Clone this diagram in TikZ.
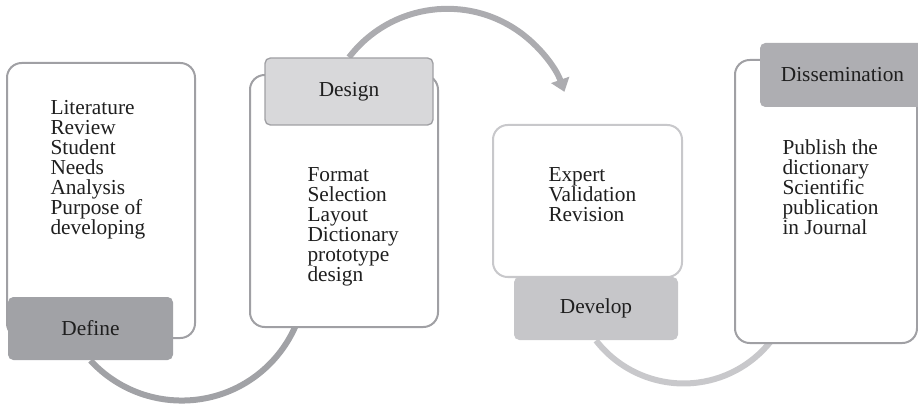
\documentclass[tikz,border=0pt]{standalone}
\usepackage{fontspec}
\setmainfont{Liberation Serif}
\usetikzlibrary{arrows.meta,backgrounds}

\definecolor{tabdark}{RGB}{161,162,166}
\definecolor{tabmid}{RGB}{174,174,178}
\definecolor{tablight}{RGB}{198,198,201}
\definecolor{tabpale}{RGB}{216,216,218}
\definecolor{framegray}{RGB}{160,160,164}
\definecolor{framelight}{RGB}{200,200,203}
\definecolor{arcmid}{RGB}{172,172,176}

\tikzset{every picture/.style={line width=0.75pt}}
\tikzset{
  stagebox/.style={draw=framegray, line width=1.5pt, fill=white, rounded corners=11pt, inner sep=0pt},
  stagetab/.style={rounded corners=4pt, inner sep=0pt, text=black!88, font=\fontsize{16}{15}\selectfont},
  stageitems/.style={anchor=north west, inner sep=0pt, align=left, text=black!88, font=\fontsize{16}{15}\selectfont},
  flowarc/.style={line width=4.5pt}
}

\begin{document}
\begin{tikzpicture}[x=0.75pt,y=0.75pt,yscale=-1,xscale=1]
	\useasboundingbox (0,0) rectangle (918,406);

	%Shape: Rounded Rectangle [stage boxes]
	\node [stagebox, minimum width=141pt, minimum height=206.25pt] (defbox) at (101,200.5) {};
	\node [stagebox, minimum width=141pt, minimum height=189pt] (desbox) at (344,201) {};
	\node [stagebox, draw=framelight, minimum width=141.75pt, minimum height=114pt] (devbox) at (587.5,201) {};
	\node [stagebox, minimum width=136.5pt, minimum height=212.25pt] (disbox) at (826,201.5) {};

	%Shape: Rounded Rectangle [stage tabs]
	\node [stagetab, fill=tabdark, minimum width=123.75pt, minimum height=47.25pt] (define) at (90.5,328.5) {Define};
	\node [stagetab, fill=tabpale, draw=framegray, line width=1pt, minimum width=126pt, minimum height=50.25pt] (design) at (349,91.5) {Design};
	\node [stagetab, fill=tablight, minimum width=123pt, minimum height=47.25pt] (develop) at (596,308.5) {Develop};
	\node [stagetab, fill=tabmid, minimum width=123.75pt, minimum height=48pt] (dissem) at (842.5,75) {Dissemination};

	% Text Node
	\node [stageitems] (defitems) at (50,100) {Literature\\Review\\Student\\Needs\\Analysis\\Purpose of\\developing};
	% Text Node
	\node [stageitems] (desitems) at (307,167) {Format\\Selection\\Layout\\Dictionary\\prototype\\design};
	% Text Node
	\node [stageitems] (devitems) at (548,167) {Expert\\Validation\\Revision};
	% Text Node
	\node [stageitems] (disitems) at (782,139) {Publish the\\dictionary\\Scientific\\publication\\in Journal};

	%Arcs between the stages
	\begin{scope}[on background layer]
	\draw [flowarc, color=tabdark] (define.south) arc [start angle=137.4, end angle=20, radius=124] ;
	\draw [flowarc, color=arcmid, -{Triangle[width=14pt,length=9.5pt]}] (design.north) arc [start angle=217.5, end angle=340.7, radius=124] ;
	\draw [flowarc, color=framelight] (develop.south) arc [start angle=142.2, end angle=36, radius=111] ;
	\end{scope}

\end{tikzpicture}
\end{document}
